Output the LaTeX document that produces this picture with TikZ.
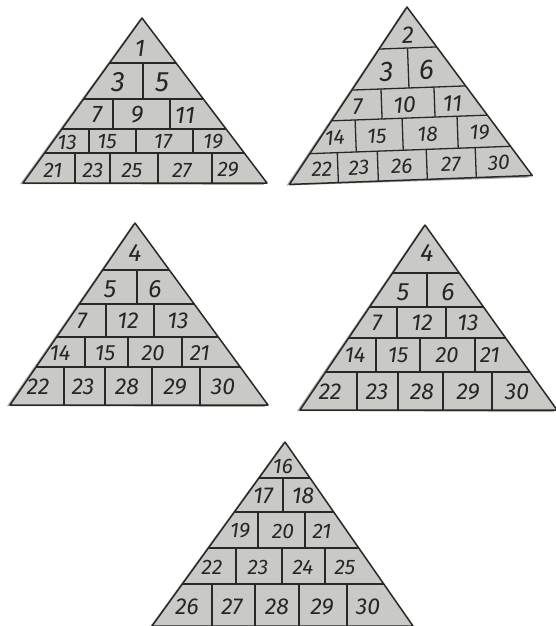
\documentclass[tikz,border=0pt]{standalone}
\usepackage{fontspec}
\usepackage{tikz}
\newfontfamily\handfont{Fira Sans}
\definecolor{cardgray}{RGB}{201,201,197}
\definecolor{inkgray}{RGB}{40,40,40}
\definecolor{shadowgray}{RGB}{95,105,100}
\begin{document}
\begin{tikzpicture}[
  x=1pt, y=-1pt,
  card/.style={fill=cardgray},
  shade/.style={fill=shadowgray, opacity=0.55},
  rule/.style={draw=inkgray, line width=1.3pt},
  rim/.style={draw=inkgray, line width=1.5pt, line join=round},
  num/.style={font=\fontsize{#1}{#1}\selectfont\handfont\itshape, text=black!85, inner sep=0pt},
  num/.default=22
]
  \useasboundingbox[fill=white] (0,0) rectangle (555,626);

  % top left: odd numbers
  \begin{scope}[shift={(142,18)}]
    \fill[shade] (-2,1) -- (-122,166) -- (122,167) -- cycle;
    \fill[card] (0,0) -- (-119,165) -- (125,165) -- cycle;
    \begin{scope}
      \clip (0,0) -- (-119,165) -- (125,165) -- cycle;
      \foreach \y in {45,81,111,135} \draw[rule] (-140,\y) -- (140,\y);
    \end{scope}
    \draw[rule] (1,45) -- (1,81);
    \foreach \x in {-29,28} \draw[rule] (\x,81) -- (\x,111);
    \foreach \x in {-53,-6,51} \draw[rule] (\x,111) -- (\x,135);
    \foreach \x in {-67,-32,16,70} \draw[rule] (\x,135) -- (\x,165);
    \draw[rim] (0,0) -- (-119,165) -- (125,165) -- cycle;
    \node[num=24] (a1) at (-2,30) {1};
    \foreach \x/\n in {-24/3,20/5} \node[num=28] (a\n) at (\x,64) {\n};
    \foreach \x/\n in {-45/7,-5/9,43/11} \node[num=24] (a\n) at (\x,97) {\n};
    \foreach \x/\n in {-75/13,-35/15,21/17,71/19} \node[num=21] (a\n) at (\x,124) {\n};
    \foreach \x/\n in {-89/21,-49/23,-10/25,40/27,86/29} \node[num=21] (a\n) at (\x,152) {\n};
  \end{scope}

  % top right: tilted card
  \begin{scope}[shift={(407,7)}, rotate=2.1, transform shape]
    \fill[shade] (-2,1) -- (-127,174) -- (116,175) -- cycle;
    \fill[card] (0,0) -- (-124,173) -- (119,173) -- cycle;
    \begin{scope}
      \clip (0,0) -- (-124,173) -- (119,173) -- cycle;
      \foreach \y in {41,81,111,143} \draw[rule] (-140,\y) -- (140,\y);
    \end{scope}
    \draw[rule] (-1,41) -- (-1,81);
    \foreach \x in {-29,24} \draw[rule] (\x,81) -- (\x,111);
    \foreach \x in {-56,-9,46} \draw[rule] (\x,111) -- (\x,143);
    \foreach \x in {-75,-35,14,63} \draw[rule] (\x,143) -- (\x,173);
    \draw[rim] (0,0) -- (-124,173) -- (119,173) -- cycle;
    \node[num=24] (b2) at (0,28) {2};
    \foreach \x/\n in {-23/3,17/6} \node[num=28] (b\n) at (\x,64) {\n};
    \foreach \x/\n in {-53/7,-6/10,42/11} \node[num=23] (b\n) at (\x,98) {\n};
    \foreach \x/\n in {-77/14,-35/15,16/18,68/19} \node[num=21] (b\n) at (\x,128) {\n};
    \foreach \x/\n in {-91/22,-54/23,-11/26,38/27,86/30} \node[num=21] (b\n) at (\x,159) {\n};
  \end{scope}

  % middle left
  \begin{scope}[shift={(135,223)}]
    \fill[shade] (-2,1) -- (-128,183) -- (130,184) -- cycle;
    \fill[card] (0,0) -- (-125,182) -- (133,182) -- cycle;
    \begin{scope}
      \clip (0,0) -- (-125,182) -- (133,182) -- cycle;
      \foreach \y in {47,81,114,144} \draw[rule] (-140,\y) -- (140,\y);
    \end{scope}
    \draw[rule] (2,47) -- (2,81);
    \foreach \x in {-29,19} \draw[rule] (\x,81) -- (\x,114);
    \foreach \x in {-50,-7,47} \draw[rule] (\x,114) -- (\x,144);
    \foreach \x in {-71,-30,17,65} \draw[rule] (\x,144) -- (\x,182);
    \draw[rim] (0,0) -- (-125,182) -- (133,182) -- cycle;
    \node[num=25] (c4) at (0,30) {4};
    \foreach \x/\n in {-25/5,20/6} \node[num=25] (c\n) at (\x,66) {\n};
    \foreach \x/\n in {-53/7,-7/12,43/13} \node[num=23] (c\n) at (\x,98) {\n};
    \foreach \x/\n in {-75/14,-30/15,18/20,65/21} \node[num=22] (c\n) at (\x,130) {\n};
    \foreach \x/\n in {-97/22,-52/23,-8/28,40/29,88/30} \node[num=23] (c\n) at (\x,164) {\n};
  \end{scope}

  % middle right
  \begin{scope}[shift={(425,225)}]
    \fill[shade] (-2,1) -- (-128,186) -- (129,187) -- cycle;
    \fill[card] (0,0) -- (-125,185) -- (132,185) -- cycle;
    \begin{scope}
      \clip (0,0) -- (-125,185) -- (132,185) -- cycle;
      \foreach \y in {48,82,113,147} \draw[rule] (-140,\y) -- (140,\y);
    \end{scope}
    \draw[rule] (2,48) -- (2,82);
    \foreach \x in {-28,21} \draw[rule] (\x,82) -- (\x,113);
    \foreach \x in {-49,-5,50} \draw[rule] (\x,113) -- (\x,147);
    \foreach \x in {-68,-27,18,67} \draw[rule] (\x,147) -- (\x,185);
    \draw[rim] (0,0) -- (-125,185) -- (132,185) -- cycle;
    \node[num=25] (d4) at (2,28) {4};
    \foreach \x/\n in {-22/5,23/6} \node[num=25] (d\n) at (\x,67) {\n};
    \foreach \x/\n in {-48/7,-3/12,43/13} \node[num=23] (d\n) at (\x,98) {\n};
    \foreach \x/\n in {-70/14,-27/15,22/20,65/21} \node[num=22] (d\n) at (\x,130) {\n};
    \foreach \x/\n in {-95/22,-48/23,-3/28,43/29,92/30} \node[num=23] (d\n) at (\x,167) {\n};
  \end{scope}

  % bottom: 16 to 30
  \begin{scope}[shift={(285,442)}]
    \fill[shade] (-2,1) -- (-136,186) -- (125,186) -- cycle;
    \fill[card] (0,0) -- (-133,184) -- (128,184) -- cycle;
    \begin{scope}
      \clip (0,0) -- (-133,184) -- (128,184) -- cycle;
      \foreach \y in {36,70,106,142} \draw[rule] (-140,\y) -- (140,\y);
    \end{scope}
    \draw[rule] (-2,36) -- (-2,70);
    \foreach \x in {-27,20} \draw[rule] (\x,70) -- (\x,106);
    \foreach \x in {-49,-3,40} \draw[rule] (\x,106) -- (\x,142);
    \foreach \x in {-73,-30,14,62} \draw[rule] (\x,142) -- (\x,184);
    \draw[rim] (0,0) -- (-133,184) -- (128,184) -- cycle;
    \node[num=21] (e16) at (-2,24) {16};
    \foreach \x/\n in {-22/17,18/18} \node[num=23] (e\n) at (\x,54) {\n};
    \foreach \x/\n in {-45/19,-2/20,37/21} \node[num=21] (e\n) at (\x,89) {\n};
    \foreach \x/\n in {-73/22,-27/23,18/24,60/25} \node[num=21] (e\n) at (\x,125) {\n};
    \foreach \x/\n in {-98/26,-53/27,-8/28,37/29,83/30} \node[num=23] (e\n) at (\x,165) {\n};
  \end{scope}
\end{tikzpicture}
\end{document}
